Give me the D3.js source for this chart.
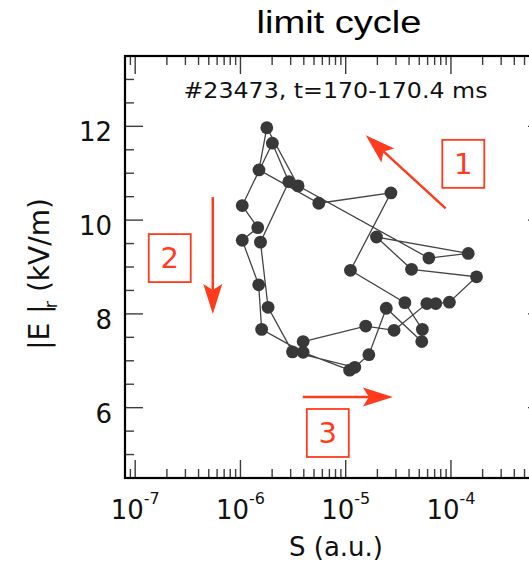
<!DOCTYPE html>
<html>
<head>
<meta charset="utf-8">
<script src="https://cdn.jsdelivr.net/npm/d3@7"></script>
<style>
  html, body { margin: 0; padding: 0; background: #fff; }
  svg { display: block; }
</style>
</head>
<body>
<svg id="chart" width="529" height="563"></svg>
<script>
// Trajectory of shot #23473 in the (S, |E_r|) plane, listed in drawing order
const sValues = [
  3.94e-6, 1.55e-5, 2.88e-5, 5.90e-5, 7.18e-5, 9.66e-5, 1.75e-4, 4.22e-5,
  1.96e-5, 1.46e-4, 6.17e-5, 3.53e-6, 1.78e-6, 1.50e-6, 5.55e-6, 2.69e-5,
  1.11e-5, 3.65e-5, 5.35e-5, 5.28e-5, 2.43e-5, 1.66e-5, 1.22e-5, 3.12e-6,
  1.83e-6, 1.55e-6, 2.88e-6, 2.01e-6, 1.04e-6, 1.46e-6, 1.04e-6, 1.49e-6,
  1.59e-6, 3.94e-6, 1.09e-5
];
const erValues = [
  7.41, 7.74, 7.65, 8.22, 8.22, 8.25, 8.79, 8.95,
  9.64, 9.29, 9.19, 10.73, 11.97, 11.07, 10.36, 10.58,
  8.93, 8.24, 7.67, 7.41, 8.12, 7.13, 6.86, 7.19,
  8.14, 9.53, 10.82, 11.64, 10.31, 9.84, 9.57, 8.62,
  7.67, 7.18, 6.80
];

// Axis ranges and tick labels
const xDomain = [8e-8, 8e-4];
const yDomain = [4.5, 13.5];
const xMajorTicks = [1e-7, 1e-6, 1e-5, 1e-4];
const xTickExponents = ["-7", "-6", "-5", "-4"];
const yMajorTicks = [6, 8, 10, 12];
const yMinorTicks = [5, 5.5, 6.5, 7, 7.5, 8.5, 9, 9.5, 10.5, 11, 11.5, 12.5, 13];

// Direction arrows (start and end in data space) and numbered boxes
const arrowStarts = [[8.9e-5, 10.25], [5.46e-7, 10.49], [3.91e-6, 6.23]];
const arrowEnds   = [[1.55e-5, 11.81], [5.46e-7, 8.00], [2.81e-5, 6.23]];
const boxLabels   = ["1", "2", "3"];
const boxCenters  = [[1.31e-4, 11.20], [2.13e-7, 9.19], [6.76e-6, 5.46]];

const titleText = "limit cycle";
const subtitleText = "#23473, t=170-170.4 ms";

const margin = { left: 125, right: 546, top: 56, bottom: 478 };
const red = "#ff3b1e";

const svg = d3.select("#chart");

const x = d3.scaleLog().domain(xDomain).range([margin.left, margin.right]);
const y = d3.scaleLinear().domain(yDomain).range([margin.bottom, margin.top]);

// minor log ticks: 2..9 times each decade inside the domain
const xMinorTicks = [];
for (let n = -8; n <= -4; n++) {
  for (let k = 2; k <= 9; k++) {
    const v = k * Math.pow(10, n);
    if (v >= xDomain[0] && v <= xDomain[1]) xMinorTicks.push(v);
  }
}
const xMajorAll = xMajorTicks.concat([1e-3]).filter(v => v >= xDomain[0] && v <= xDomain[1]);

const tickColor = "#3c3c3c";
const majorLen = 18, minorLen = 9;
const ticks = svg.append("g").attr("stroke", tickColor).attr("stroke-width", 1.4);

// bottom and top
[[margin.bottom, -1], [margin.top, 1]].forEach(([yy, dir]) => {
  ticks.selectAll(null).data(xMajorAll).enter().append("line")
    .attr("x1", d => x(d)).attr("x2", d => x(d))
    .attr("y1", yy).attr("y2", yy + dir * majorLen);
  ticks.selectAll(null).data(xMinorTicks).enter().append("line")
    .attr("x1", d => x(d)).attr("x2", d => x(d))
    .attr("y1", yy).attr("y2", yy + dir * minorLen);
});
// left and right
[[margin.left, 1], [margin.right, -1]].forEach(([xx, dir]) => {
  ticks.selectAll(null).data(yMajorTicks).enter().append("line")
    .attr("y1", d => y(d)).attr("y2", d => y(d))
    .attr("x1", xx).attr("x2", xx + dir * majorLen);
  ticks.selectAll(null).data(yMinorTicks).enter().append("line")
    .attr("y1", d => y(d)).attr("y2", d => y(d))
    .attr("x1", xx).attr("x2", xx + dir * minorLen);
});

// frame
svg.append("rect")
  .attr("x", margin.left).attr("y", margin.top)
  .attr("width", margin.right - margin.left)
  .attr("height", margin.bottom - margin.top)
  .attr("fill", "none").attr("stroke", "#000").attr("stroke-width", 2.2);

const tickFont = "'DejaVu Sans', sans-serif";

// y tick labels
svg.append("g").selectAll("text").data(yMajorTicks).enter().append("text")
  .attr("x", margin.left - 13).attr("y", d => y(d) + 15)
  .attr("text-anchor", "end")
  .attr("font-family", tickFont).attr("font-size", 26).attr("fill", "#111")
  .text(d => d);

// x tick labels as powers of ten
const xl = svg.append("g").selectAll("text").data(xMajorTicks).enter().append("text")
  .attr("x", d => x(d)).attr("y", 519)
  .attr("text-anchor", "middle")
  .attr("font-family", tickFont).attr("font-size", 26).attr("fill", "#111");
xl.append("tspan").text("10");
xl.append("tspan").attr("dy", -15).attr("font-size", 16).text((d, i) => xTickExponents[i]);

// axis titles
svg.append("text")
  .attr("x", 336).attr("y", 556)
  .attr("text-anchor", "middle")
  .attr("font-family", tickFont).attr("font-size", 26).attr("fill", "#111")
  .text("S (a.u.)");

const yl = svg.append("text")
  .attr("transform", "translate(49,274) rotate(-90)")
  .attr("text-anchor", "middle")
  .attr("font-family", tickFont).attr("font-size", 28).attr("fill", "#111");
yl.append("tspan").text("|E |");
yl.append("tspan").attr("dy", 8).attr("dx", -4).attr("font-size", 18).text("r");
yl.append("tspan").attr("dy", -8).text(" (kV/m)");

// title and shot label
svg.append("text")
  .attr("x", 339).attr("y", 33)
  .attr("text-anchor", "middle")
  .attr("font-family", "'Liberation Sans', Arial, sans-serif")
  .attr("font-size", 31).attr("fill", "#000")
  .attr("textLength", 165).attr("lengthAdjust", "spacingAndGlyphs")
  .text(titleText);

svg.append("text")
  .attr("x", 335.5).attr("y", 98)
  .attr("text-anchor", "middle")
  .attr("font-family", tickFont).attr("font-size", 21).attr("fill", "#111")
  .attr("textLength", 304).attr("lengthAdjust", "spacingAndGlyphs")
  .text(subtitleText);

// trajectory
const pts = sValues.map((s, i) => [x(s), y(erValues[i])]);
svg.append("path")
  .attr("d", d3.line()(pts))
  .attr("fill", "none").attr("stroke", "#444").attr("stroke-width", 1.3);

svg.append("g").selectAll("circle").data(pts).enter().append("circle")
  .attr("cx", d => d[0]).attr("cy", d => d[1]).attr("r", 6.4)
  .attr("fill", "#383838");

// direction arrows
const headLen = 30, headHalf = 9.5, notch = 6;
arrowStarts.forEach((a, i) => {
  const x0 = x(a[0]), y0 = y(a[1]);
  const x1 = x(arrowEnds[i][0]), y1 = y(arrowEnds[i][1]);
  const L = Math.hypot(x1 - x0, y1 - y0);
  const ux = (x1 - x0) / L, uy = (y1 - y0) / L;
  const nx = -uy, ny = ux;
  const bx = x1 - headLen * ux, by = y1 - headLen * uy;
  const mx = x1 - (headLen - notch) * ux, my = y1 - (headLen - notch) * uy;
  svg.append("line")
    .attr("x1", x0).attr("y1", y0).attr("x2", mx).attr("y2", my)
    .attr("stroke", red).attr("stroke-width", 2.5);
  svg.append("path")
    .attr("d", `M${x1},${y1}L${bx + headHalf * nx},${by + headHalf * ny}L${mx},${my}L${bx - headHalf * nx},${by - headHalf * ny}Z`)
    .attr("fill", red);
});

// numbered boxes
const boxW = 42, boxH = 48;
boxCenters.forEach((c, i) => {
  const cx = x(c[0]), cy = y(c[1]);
  svg.append("rect")
    .attr("x", cx - boxW / 2).attr("y", cy - boxH / 2)
    .attr("width", boxW).attr("height", boxH)
    .attr("fill", "none").attr("stroke", red).attr("stroke-width", 1.8);
  svg.append("text")
    .attr("x", cx).attr("y", cy + 10)
    .attr("text-anchor", "middle")
    .attr("font-family", tickFont).attr("font-size", 29).attr("fill", red)
    .text(boxLabels[i]);
});
</script>
</body>
</html>
